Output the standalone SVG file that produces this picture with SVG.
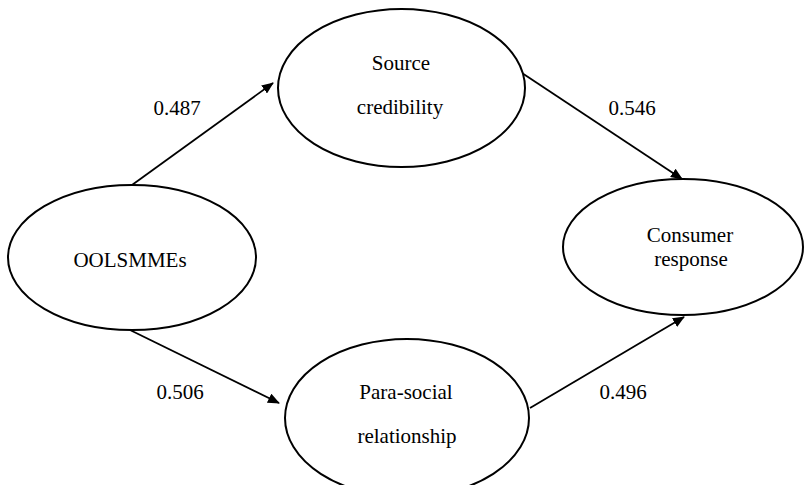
<svg xmlns="http://www.w3.org/2000/svg" width="804" height="485" viewBox="0 0 804 485">
<style>
.node ellipse{fill:#fff;stroke:#000;stroke-width:2}
text{font-family:"Liberation Serif","Times New Roman",serif;font-size:21px;fill:#000;text-anchor:middle}
.edge{stroke:#000;stroke-width:1.8;fill:none;marker-end:url(#ah)}
</style>
<defs>
<marker id="ah" viewBox="0 0 12 10" refX="11" refY="5" markerWidth="12" markerHeight="10" markerUnits="userSpaceOnUse" orient="auto">
<path d="M0,0 L12,5 L0,10 Z" fill="#000"/>
</marker>
</defs>
<rect width="804" height="485" fill="#fff"/>
<g id="connectors">
<line class="edge" x1="132" y1="185" x2="273" y2="83"/>
<line class="edge" x1="522" y1="73" x2="682" y2="179"/>
<line class="edge" x1="130" y1="330" x2="279" y2="403"/>
<line class="edge" x1="530" y1="408" x2="684" y2="317"/>
<text x="177" y="115">0.487</text>
<text x="632" y="115">0.546</text>
<text x="180" y="399">0.506</text>
<text x="623" y="399">0.496</text>
</g>
<g id="node-oolsmmes" class="node">
<ellipse cx="132" cy="257.5" rx="124" ry="72.5"/>
<text x="130" y="267">OOLSMMEs</text>
</g>
<g id="node-source" class="node">
<ellipse cx="401.5" cy="88" rx="123.5" ry="79"/>
<text x="401" y="70">Source</text>
<text x="400" y="114">credibility</text>
</g>
<g id="node-consumer" class="node">
<ellipse cx="683" cy="247" rx="120" ry="68"/>
<text x="690" y="242">Consumer</text>
<text x="691" y="266">response</text>
</g>
<g id="node-parasocial" class="node">
<ellipse cx="407" cy="418" rx="122" ry="79"/>
<text x="406" y="399">Para-social</text>
<text x="407" y="443">relationship</text>
</g>
</svg>
